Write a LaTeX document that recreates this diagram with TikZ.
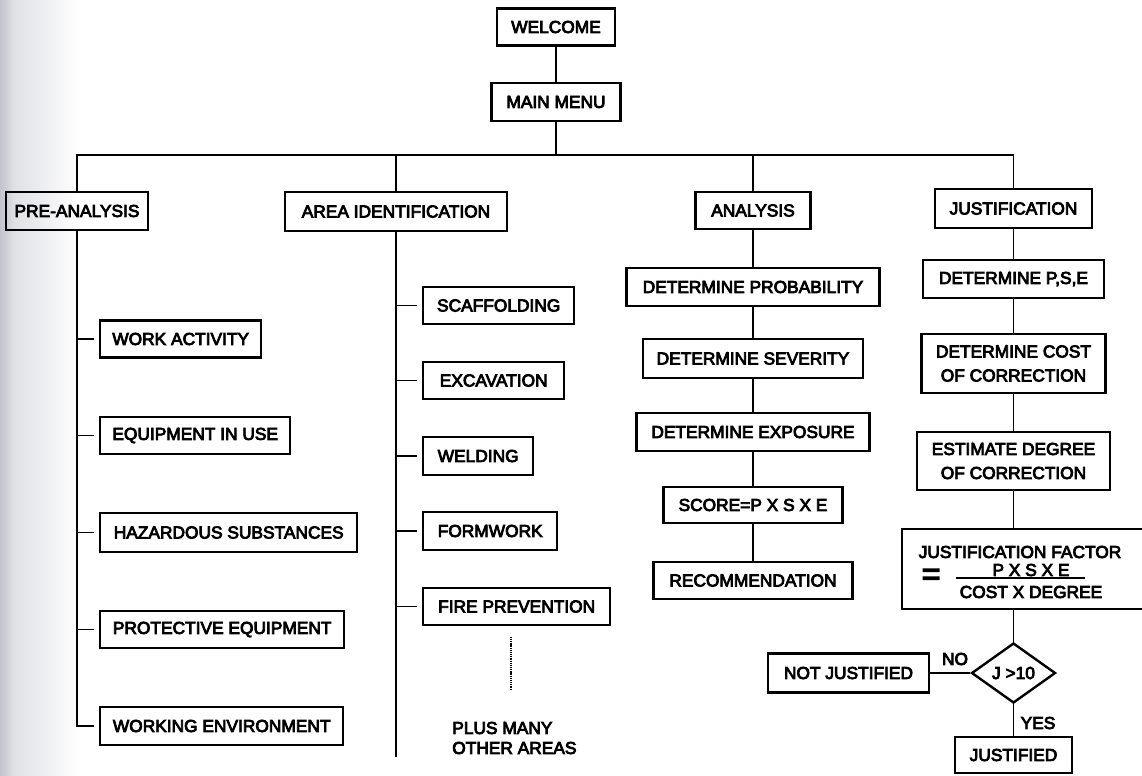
\documentclass[tikz,border=0pt]{standalone}
\usepackage{fontspec}
\setmainfont{Liberation Sans}
\newfontfamily\labelfamily{Liberation Sans}[FakeBold=4.5]
\usetikzlibrary{shapes.geometric}
\newcommand\boxfont{\labelfamily\fontsize{13}{18}\selectfont}
\definecolor{edgegray}{RGB}{194,195,204}
\definecolor{midgray}{RGB}{224,225,230}

\tikzset{
  box/.style={draw, line width=1.8pt, inner sep=0pt, align=center, font=\boxfont},
  wh/.style 2 args={minimum width=#1*0.75pt, minimum height=#2*0.75pt},
  link/.style={line width=1.3pt},
  stub/.style={link, shorten >=4pt},
  txt/.style={font=\boxfont, inner sep=0pt},
  dots/.style={line width=1.3pt, dash pattern=on 0.8pt off 0.6pt}}

\begin{document}
\begin{tikzpicture}[x=0.75pt,y=-0.75pt]

% page and scanned left edge
\fill[white] (0,0) rectangle (1142,775);
\useasboundingbox (0,0) rectangle (1142,775);
\clip (0,0) rectangle (1142,775);
\shade[left color=edgegray, right color=midgray] (0,0) rectangle (14,775);
\shade[left color=midgray, right color=white] (14,0) rectangle (80,775);

% top of the tree
\node[box, wh={118}{37}] (welcome) at (556,27) {WELCOME};
\node[box, wh={129}{38}] (mainmenu) at (556,102) {MAIN MENU};
\coordinate (bus) at (556,155);

% the four branches
\node[box, wh={142}{38}] (pre) at (77,211) {PRE-ANALYSIS};
\node[box, wh={222}{39}] (area) at (396,211.5) {AREA IDENTIFICATION};
\node[box, wh={115}{37}] (anal) at (753,210.5) {ANALYSIS};
\node[box, wh={157}{39}] (just) at (1013.5,208.5) {JUSTIFICATION};

% pre-analysis items
\node[box, wh={161}{37}, anchor=west] (wact) at (99,339) {WORK ACTIVITY};
\node[box, wh={190}{37}, anchor=west] (equip) at (99,435.5) {EQUIPMENT IN USE};
\node[box, wh={257}{39}, anchor=west] (haz) at (99,532.5) {HAZARDOUS SUBSTANCES};
\node[box, wh={244}{37}, anchor=west] (prot) at (99,629.5) {PROTECTIVE EQUIPMENT};
\node[box, wh={243}{38}, anchor=west] (wenv) at (99,726) {WORKING ENVIRONMENT};

% area identification items
\node[box, wh={151}{37}, anchor=west] (scaf) at (422,305.5) {SCAFFOLDING};
\node[box, wh={141}{37}, anchor=west] (exc) at (422,380.5) {EXCAVATION};
\node[box, wh={110}{38}, anchor=west] (weld) at (422,456) {WELDING};
\node[box, wh={134}{38}, anchor=west] (form) at (422,531) {FORMWORK};
\node[box, wh={187}{37}, anchor=west] (fire) at (422,606.5) {FIRE PREVENTION};
\coordinate (areaend) at (396,757);
\coordinate (dottop) at (511,637);
\coordinate (dotbot) at (511,690);
\node[txt, align=left, anchor=west, font=\labelfamily\fontsize{13}{15}\selectfont] (more) at (452,738) {PLUS MANY\\OTHER AREAS};

% analysis steps
\node[box, wh={253}{38}] (prob) at (753,287) {DETERMINE PROBABILITY};
\node[box, wh={220}{39}] (sev) at (753,358.5) {DETERMINE SEVERITY};
\node[box, wh={233}{38}] (expo) at (753,432) {DETERMINE EXPOSURE};
\node[box, wh={179}{36}] (score) at (753,505) {SCORE=P X S X E};
\node[box, wh={199}{37}] (recom) at (753,580.5) {RECOMMENDATION};

% justification steps
\node[box, wh={181}{38}] (pse) at (1013.5,279) {DETERMINE P,S,E};
\node[box, wh={184}{59}] (cost) at (1013.5,363.5) {DETERMINE COST\\OF CORRECTION};
\node[box, wh={193}{58}] (est) at (1013.5,461) {ESTIMATE DEGREE\\OF CORRECTION};
\node[box, wh={248}{80}] (jf) at (1026,569) {};
\node[txt] (jftitle) at (1020,552) {JUSTIFICATION FACTOR};
\node[txt, font=\labelfamily\fontsize{24}{24}\selectfont] (jfeq) at (931,577) {=};
\node[txt] (jfnum) at (1031,570) {P X S X E};
\node[txt] (jfden) at (1031,592) {COST X DEGREE};
\coordinate (barl) at (956,578);
\coordinate (barr) at (1085,578);
\node[box, shape=diamond, wh={84}{60}] (dia) at (1013.5,673) {J >10};
\node[box, wh={161}{39}] (notj) at (848.5,673) {NOT JUSTIFIED};
\node[box, wh={117}{36}] (justified) at (1013.5,755) {JUSTIFIED};
\node[txt] (nolab) at (955,659) {NO};
\node[txt] (yeslab) at (1038,723) {YES};

% connectors
\draw[link] (welcome) -- (mainmenu);
\draw[link] (mainmenu) -- (bus);
\draw[link] (pre.north) |- (bus) -| (just.north);
\draw[link] (area.north) -- (area.north |- bus);
\draw[link] (anal.north) -- (anal.north |- bus);

\draw[link] (pre.south) |- ([xshift=-4pt]wenv.west);
\foreach \n in {wact,equip,haz,prot}
  \draw[stub] (pre.south |- \n.west) -- (\n.west);

\draw[link] (area.south) -- (areaend);
\foreach \n in {scaf,exc,weld,form,fire}
  \draw[stub] (area.south |- \n.west) -- (\n.west);
\draw[dots] (dottop) -- (dotbot);

\draw[link] (anal) -- (prob);
\draw[link] (prob) -- (sev);
\draw[link] (sev) -- (expo);
\draw[link] (expo) -- (score);
\draw[link] (score) -- (recom);

\draw[link] (just) -- (pse);
\draw[link] (pse) -- (cost);
\draw[link] (cost) -- (est);
\draw[link] (est.south) -- (est.south |- jf.north);
\draw[line width=1.5pt] (barl) -- (barr);
\draw[link] (dia.north |- jf.south) -- (dia.north);
\draw[link] (dia.west) -- (notj.east);
\draw[link] (dia.south) -- (justified.north);
\end{tikzpicture}
\end{document}
